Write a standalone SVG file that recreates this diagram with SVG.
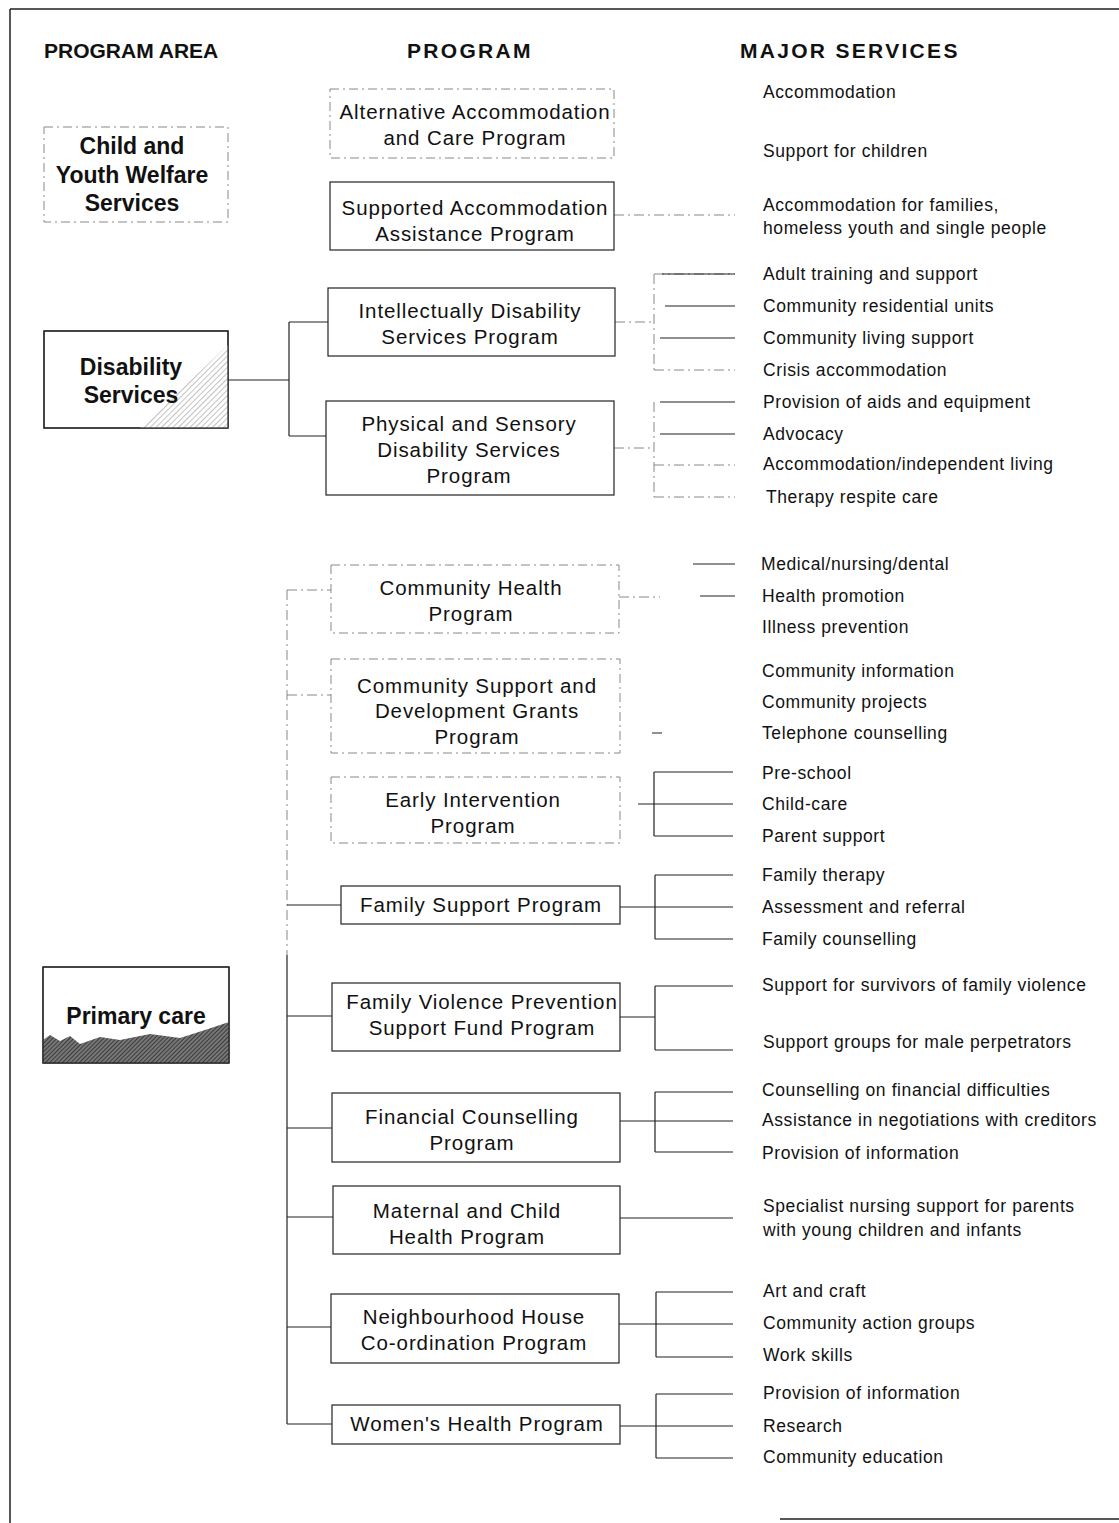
<svg xmlns="http://www.w3.org/2000/svg" width="1119" height="1523" viewBox="0 0 1119 1523">
<style>
text{font-family:"Liberation Sans",Arial,sans-serif;fill:#111}
.hd{font-size:21px;font-weight:bold}
.hdw{letter-spacing:2.3px}
.area{font-size:23px;font-weight:bold;text-anchor:middle}
.prog{font-size:20.5px;text-anchor:middle;letter-spacing:0.9px}
.svc{font-size:17.5px;letter-spacing:0.6px}
.box{fill:#fff;stroke:#222;stroke-width:1.2}
.fbox{fill:#fff;stroke:#888;stroke-width:1;stroke-dasharray:9 4 2 4}
.ln{fill:none;stroke:#222;stroke-width:1.2}
.fl{fill:none;stroke:#888;stroke-width:1;stroke-dasharray:10 4 2 4}
.border{fill:none;stroke:#222;stroke-width:1.5}
</style>
<defs>
<pattern id="hatchLight" width="4" height="4" patternUnits="userSpaceOnUse" patternTransform="rotate(45)">
<rect width="4" height="4" fill="#fff"/>
<line x1="0" y1="0" x2="0" y2="4" stroke="#999" stroke-width="1.2"/>
</pattern>
<pattern id="hatchDark" width="3" height="3" patternUnits="userSpaceOnUse" patternTransform="rotate(45)">
<rect width="3" height="3" fill="#777"/>
<line x1="0" y1="0" x2="0" y2="3" stroke="#222" stroke-width="1.4"/>
</pattern>
</defs>
<rect width="1119" height="1523" fill="#fff"/>
<g id="page-border">
<path class="border" d="M10,9 H1119 M10,9 V1523 M780,1519 H1119"/>
</g>
<g id="headers">
<text class="hd" x="44" y="58">PROGRAM AREA</text>
<text class="hd hdw" x="407" y="58">PROGRAM</text>
<text class="hd hdw" x="740" y="58">MAJOR SERVICES</text>
</g>
<g id="connectors">
<path class="ln" d="M228,380 H289 M289,322 V436 M289,322 H328 M289,436 H326"/>
<path class="fl" d="M287,590 V955"/>
<path class="ln" d="M287,955 V1424"/>
<path class="fl" d="M287,590 H331 M287,695 H331"/>
<path class="ln" d="M287,905 H341 M287,1016 H332 M287,1128 H332 M287,1217 H333 M287,1327 H331 M287,1424 H332"/>
<path class="fl" d="M614,215 H735"/>
<path class="fl" d="M615,322 H654 M654,274 V370 M654,274 H735 M654,370 H735"/>
<path class="ln" d="M665,306 H735 M660,338 H735 M662,274 H735"/>
<path class="fl" d="M614,448 H654 M654,402 V497 M654,497 H735 M654,465 H735"/>
<path class="ln" d="M660,402 H735 M660,434 H735"/>
<path class="fl" d="M619,597 H660"/>
<path class="ln" d="M693,564 H735 M700,596 H735 M652,733 H662"/>
<path class="ln" d="M638,804 H733 M654,772 V836 M654,772 H733 M654,836 H733"/>
<path class="ln" d="M620,907 H733 M655,875 V939 M655,875 H733 M655,939 H733"/>
<path class="ln" d="M620,1017 H655 M655,986 V1050 M655,986 H733 M655,1050 H733"/>
<path class="ln" d="M620,1121 H733 M655,1092 V1152 M655,1092 H733 M655,1152 H733"/>
<path class="ln" d="M620,1218 H733"/>
<path class="ln" d="M619,1324 H733 M656,1292 V1357 M656,1292 H733 M656,1357 H733"/>
<path class="ln" d="M620,1426 H733 M656,1394 V1458 M656,1394 H733 M656,1458 H733"/>
</g>
<g id="area-child-youth">
<rect class="fbox" x="44" y="127" width="184" height="95"/>
<text class="area" x="132" y="154">Child and</text>
<text class="area" x="132" y="183">Youth Welfare</text>
<text class="area" x="132" y="211">Services</text>
</g>
<g id="area-disability">
<rect class="box" x="44" y="331" width="184" height="97"/>
<path d="M228,345 L228,428 L140,428 Z" fill="url(#hatchLight)"/>
<rect x="44" y="331" width="184" height="97" fill="none" stroke="#222" stroke-width="1.2"/>
<text class="area" x="131" y="375">Disability</text>
<text class="area" x="131" y="403">Services</text>
</g>
<g id="area-primary-care">
<rect class="box" x="43" y="967" width="186" height="96"/>
<path d="M43,1040 L50,1035 L60,1041 L70,1036 L80,1044 L100,1037 L120,1040 L150,1034 L180,1038 L205,1030 L229,1022 L229,1063 L43,1063 Z" fill="url(#hatchDark)"/>
<rect x="43" y="967" width="186" height="96" fill="none" stroke="#222" stroke-width="1.2"/>
<text class="area" x="136" y="1024">Primary care</text>
</g>
<g id="prog-alternative-accommodation">
<rect class="fbox" x="330" y="89" width="284" height="69"/>
<text class="prog" x="475" y="119">Alternative Accommodation</text>
<text class="prog" x="475" y="145">and Care Program</text>
</g>
<g id="prog-supported-accommodation">
<rect class="box" x="330" y="182" width="284" height="68"/>
<text class="prog" x="475" y="215">Supported Accommodation</text>
<text class="prog" x="475" y="241">Assistance Program</text>
</g>
<g id="prog-intellectual-disability">
<rect class="box" x="328" y="288" width="287" height="68"/>
<text class="prog" x="470" y="318">Intellectually Disability</text>
<text class="prog" x="470" y="344">Services Program</text>
</g>
<g id="prog-physical-sensory">
<rect class="box" x="326" y="401" width="288" height="94"/>
<text class="prog" x="469" y="431">Physical and Sensory</text>
<text class="prog" x="469" y="457">Disability Services</text>
<text class="prog" x="469" y="483">Program</text>
</g>
<g id="prog-community-health">
<rect class="fbox" x="331" y="565" width="288" height="68"/>
<text class="prog" x="471" y="595">Community Health</text>
<text class="prog" x="471" y="621">Program</text>
</g>
<g id="prog-community-support">
<rect class="fbox" x="331" y="659" width="289" height="94"/>
<text class="prog" x="477" y="693">Community Support and</text>
<text class="prog" x="477" y="718">Development Grants</text>
<text class="prog" x="477" y="744">Program</text>
</g>
<g id="prog-early-intervention">
<rect class="fbox" x="331" y="777" width="289" height="66"/>
<text class="prog" x="473" y="807">Early Intervention</text>
<text class="prog" x="473" y="833">Program</text>
</g>
<g id="prog-family-support">
<rect class="box" x="341" y="886" width="279" height="38"/>
<text class="prog" x="481" y="912">Family Support Program</text>
</g>
<g id="prog-family-violence">
<rect class="box" x="332" y="983" width="288" height="68"/>
<text class="prog" x="482" y="1009">Family Violence Prevention</text>
<text class="prog" x="482" y="1035">Support Fund Program</text>
</g>
<g id="prog-financial-counselling">
<rect class="box" x="332" y="1093" width="288" height="69"/>
<text class="prog" x="472" y="1124">Financial Counselling</text>
<text class="prog" x="472" y="1150">Program</text>
</g>
<g id="prog-maternal-child">
<rect class="box" x="333" y="1186" width="287" height="68"/>
<text class="prog" x="467" y="1218">Maternal and Child</text>
<text class="prog" x="467" y="1244">Health Program</text>
</g>
<g id="prog-neighbourhood-house">
<rect class="box" x="331" y="1294" width="288" height="69"/>
<text class="prog" x="474" y="1324">Neighbourhood House</text>
<text class="prog" x="474" y="1350">Co-ordination Program</text>
</g>
<g id="prog-womens-health">
<rect class="box" x="332" y="1405" width="288" height="39"/>
<text class="prog" x="477" y="1431">Women's Health Program</text>
</g>
<g id="services">
<text class="svc" x="763" y="98">Accommodation</text>
<text class="svc" x="763" y="157">Support for children</text>
<text class="svc" x="763" y="211">Accommodation for families,</text>
<text class="svc" x="763" y="234">homeless youth and single people</text>
<text class="svc" x="763" y="280">Adult training and support</text>
<text class="svc" x="763" y="312">Community residential units</text>
<text class="svc" x="763" y="344">Community living support</text>
<text class="svc" x="763" y="376">Crisis accommodation</text>
<text class="svc" x="763" y="408">Provision of aids and equipment</text>
<text class="svc" x="763" y="440">Advocacy</text>
<text class="svc" x="763" y="470">Accommodation/independent living</text>
<text class="svc" x="766" y="503">Therapy respite care</text>
<text class="svc" x="761" y="570">Medical/nursing/dental</text>
<text class="svc" x="762" y="602">Health promotion</text>
<text class="svc" x="762" y="633">Illness prevention</text>
<text class="svc" x="762" y="677">Community information</text>
<text class="svc" x="762" y="708">Community projects</text>
<text class="svc" x="762" y="739">Telephone counselling</text>
<text class="svc" x="762" y="779">Pre-school</text>
<text class="svc" x="762" y="810">Child-care</text>
<text class="svc" x="762" y="842">Parent support</text>
<text class="svc" x="762" y="881">Family therapy</text>
<text class="svc" x="762" y="913">Assessment and referral</text>
<text class="svc" x="762" y="945">Family counselling</text>
<text class="svc" x="762" y="991">Support for survivors of family violence</text>
<text class="svc" x="763" y="1048">Support groups for male perpetrators</text>
<text class="svc" x="762" y="1096">Counselling on financial difficulties</text>
<text class="svc" x="762" y="1126">Assistance in negotiations with creditors</text>
<text class="svc" x="762" y="1159">Provision of information</text>
<text class="svc" x="763" y="1212">Specialist nursing support for parents</text>
<text class="svc" x="763" y="1236">with young children and infants</text>
<text class="svc" x="763" y="1297">Art and craft</text>
<text class="svc" x="763" y="1329">Community action groups</text>
<text class="svc" x="763" y="1361">Work skills</text>
<text class="svc" x="763" y="1399">Provision of information</text>
<text class="svc" x="763" y="1432">Research</text>
<text class="svc" x="763" y="1463">Community education</text>
</g>
</svg>
